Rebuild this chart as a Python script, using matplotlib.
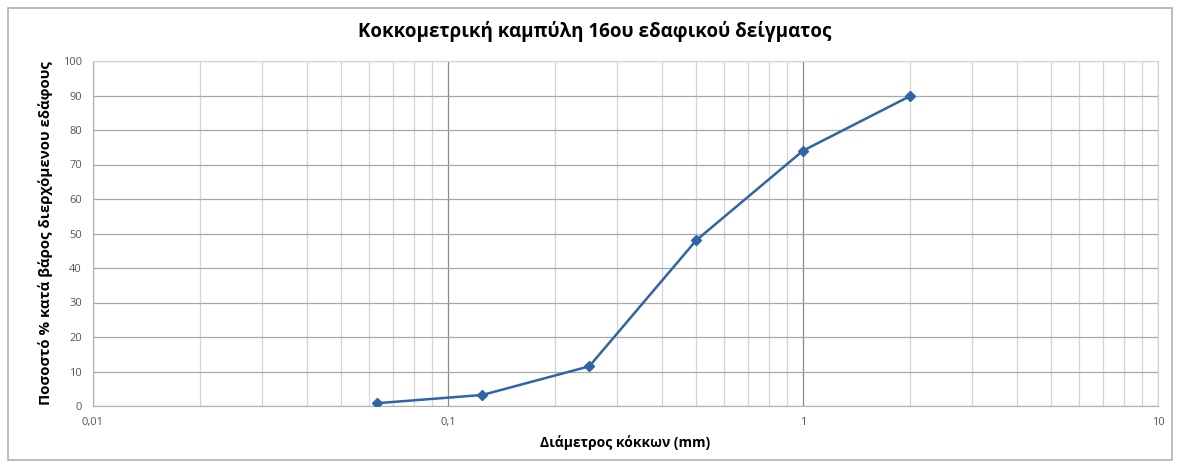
import matplotlib.pyplot as plt
from matplotlib.patches import Rectangle
from matplotlib.ticker import FixedLocator, NullFormatter, FixedFormatter
import numpy as np

plt.rcParams['font.family'] = ['Open Sans', 'DejaVu Sans']

# Kokkometriki data
diametros = [0.063, 0.125, 0.25, 0.5, 1, 2]
pososto = [0.8, 3.2, 11.5, 48, 74, 89.8]

x_ticks = [0.01, 0.1, 1, 10]
x_labels = ['0,01', '0,1', '1', '10']
y_ticks = [0, 10, 20, 30, 40, 50, 60, 70, 80, 90, 100]

fig = plt.figure(figsize=(11.79, 4.68), dpi=100)
fig.patches.append(Rectangle((8/1179, 8/468), 1164/1179, 452/468,
                             transform=fig.transFigure, fill=False,
                             edgecolor='#b0b0b0', linewidth=1.2))

ax = fig.add_axes([93/1179, 1-406/468, 1065/1179, 345/468])
ax.set_xscale('log')
ax.set_xlim(0.01, 10)
ax.set_ylim(0, 100)

ax.plot(diametros, pososto, color='#2e64a8', linewidth=1.8,
        marker='D', markersize=5, zorder=3)

ax.xaxis.set_major_locator(FixedLocator(x_ticks))
ax.xaxis.set_major_formatter(FixedFormatter(x_labels))
minors = [m * 10.0**e for e in (-2, -1, 0) for m in range(2, 10)]
ax.xaxis.set_minor_locator(FixedLocator(minors))
ax.xaxis.set_minor_formatter(NullFormatter())
ax.set_yticks(y_ticks)

ax.grid(True, which='major', axis='x', color='#8a8a8a', linewidth=0.9)
ax.grid(True, which='minor', axis='x', color='#d4d4d4', linewidth=0.9)
ax.grid(True, which='major', axis='y', color='#a8a8a8', linewidth=0.9)
ax.set_axisbelow(True)

for s in ['top', 'right']:
    ax.spines[s].set_color('#d4d4d4')
for s in ['left', 'bottom']:
    ax.spines[s].set_color('#b0b0b0')
ax.tick_params(which='both', length=0, labelsize=8, colors='#555555', pad=8)

fig.text(595/1179, 1-32/468, 'Κοκκομετρική καμπύλη 16ου εδαφικού δείγματος',
         fontsize=13.5, fontweight='bold', ha='center', va='center')
ax.set_xlabel('Διάμετρος κόκκων (mm)', fontsize=10, fontweight='bold', labelpad=5)
ax.set_ylabel('Ποσοστό % κατά βάρος διερχόμενου εδάφους', fontsize=10.8,
              fontweight='bold', labelpad=7)

fig.savefig('out.png', dpi=100)
